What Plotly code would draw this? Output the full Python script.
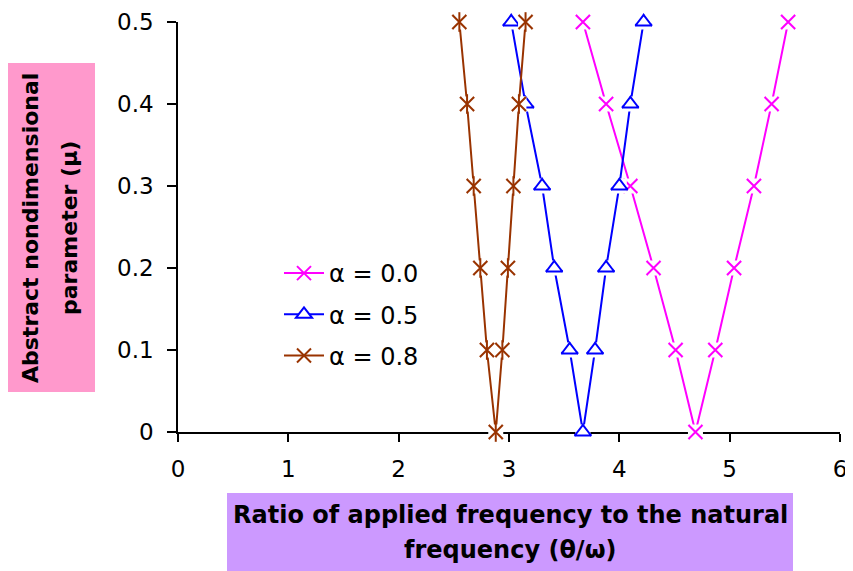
import plotly.graph_objects as go

mu = [0.5, 0.4, 0.3, 0.2, 0.1, 0.0, 0.1, 0.2, 0.3, 0.4, 0.5]
ratio_a00 = [3.67, 3.88, 4.10, 4.31, 4.51, 4.69, 4.87, 5.04, 5.22, 5.38, 5.53]
ratio_a05 = [3.02, 3.15, 3.30, 3.41, 3.55, 3.67, 3.78, 3.88, 4.00, 4.10, 4.22]
ratio_a08 = [2.55, 2.62, 2.68, 2.74, 2.80, 2.88, 2.94, 2.99, 3.04, 3.09, 3.15]
names = ["α = 0.0", "α = 0.5", "α = 0.8"]
colors = ["#FF00FF", "#0000FF", "#993300"]

FONT = "DejaVu Sans, Arial, sans-serif"
fig = go.Figure()

series = [
    (ratio_a00, names[0], colors[0], ["x-thin-open"]),
    (ratio_a05, names[1], colors[1], ["triangle-up"]),
    (ratio_a08, names[2], colors[2], ["x-thin-open", "line-ns-open"]),
]

for i, (xs, nm, col, syms) in enumerate(series):
    grp = f"g{i}"
    tri = syms[0] == "triangle-up"
    fig.add_trace(go.Scatter(
        x=xs, y=mu, name=nm, mode="lines+markers", legendgroup=grp,
        line=dict(color=col, width=2),
        marker=dict(symbol=syms[0], size=14,
                    color="white" if tri else col,
                    line=dict(color=col, width=2)),
        cliponaxis=False))
    fig.add_trace(go.Scatter(
        x=xs, y=mu, mode="markers", showlegend=False, legendgroup=grp,
        marker=dict(symbol="square", size=15, color="white",
                    line=dict(width=0)),
        hoverinfo="skip", cliponaxis=False))
    for s in syms:
        fig.add_trace(go.Scatter(
            x=xs, y=mu, mode="markers", showlegend=False, legendgroup=grp,
            marker=dict(symbol=s, size=14,
                        color="white" if tri else col,
                        line=dict(color=col, width=2)),
            hoverinfo="skip", cliponaxis=False))

# page has an 8px body margin, so the figure starts at (8, 8)
OFF = 8
W, H = 845, 563
L, R, T, B = 170, 13, 14, 139
pw, ph = W - L - R, H - T - B

def px(x):
    return (x - OFF - L) / pw

def py(y):
    return (H - B - (y - OFF)) / ph

fig.update_layout(
    width=W, height=H,
    margin=dict(l=L, r=R, t=T, b=B, autoexpand=False),
    paper_bgcolor="white", plot_bgcolor="white",
    font=dict(family=FONT, size=23, color="black"),
    showlegend=True,
    legend=dict(x=px(279), y=py(251), xanchor="left", yanchor="top",
                bgcolor="rgba(0,0,0,0)", font=dict(size=24, family=FONT),
                tracegroupgap=7, itemwidth=40),
    xaxis=dict(range=[0, 6], dtick=1, tick0=0, showgrid=False, zeroline=False,
               showline=True, linecolor="black", linewidth=1.5,
               ticks="outside", ticklen=8, tickwidth=1.5, tickcolor="black",
               layer="below traces", ticklabelstandoff=8, automargin=False,
               tickfont=dict(size=23, family=FONT)),
    yaxis=dict(range=[0, 0.5], dtick=0.1, tick0=0, showgrid=False, zeroline=False,
               showline=True, linecolor="black", linewidth=1.5,
               ticks="outside", ticklen=9, tickwidth=1.5, tickcolor="black",
               layer="below traces", ticklabelstandoff=9, automargin=False,
               tickfont=dict(size=23, family=FONT)),
    shapes=[
        dict(type="rect", xref="paper", yref="paper",
             x0=px(8), x1=px(95), y0=py(392), y1=py(63),
             fillcolor="#FF99CC", line=dict(width=0), layer="below"),
        dict(type="rect", xref="paper", yref="paper",
             x0=px(227), x1=px(793), y0=py(571), y1=py(493),
             fillcolor="#CC99FF", line=dict(width=0), layer="below"),
    ],
    annotations=[
        dict(text="<b>Abstract nondimensional</b>",
             xref="paper", yref="paper", x=px(30), y=py(228),
             xanchor="center", yanchor="middle", textangle=-90, showarrow=False,
             font=dict(size=22, family=FONT, color="black")),
        dict(text="<b>parameter (μ)</b>",
             xref="paper", yref="paper", x=px(69), y=py(228),
             xanchor="center", yanchor="middle", textangle=-90, showarrow=False,
             font=dict(size=22, family=FONT, color="black")),
        dict(text="<b>Ratio of applied frequency to the natural</b>",
             xref="paper", yref="paper", x=px(510), y=py(515),
             xanchor="center", yanchor="middle", showarrow=False,
             font=dict(size=24, family=FONT, color="black")),
        dict(text="<b>frequency (θ/ω)</b>",
             xref="paper", yref="paper", x=px(510), y=py(550),
             xanchor="center", yanchor="middle", showarrow=False,
             font=dict(size=24, family=FONT, color="black")),
    ],
)

fig.write_html("out.html")
